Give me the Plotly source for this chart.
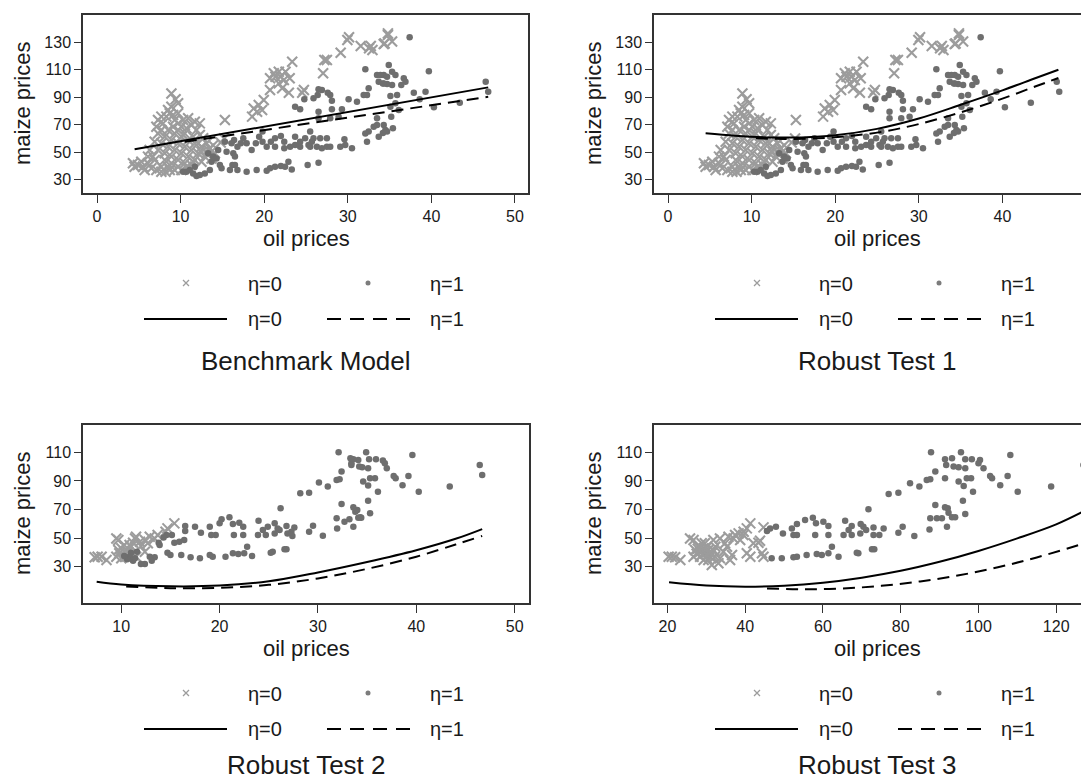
import plotly.graph_objects as go

# ---------------- data ----------------
# Top panels (Benchmark Model / Robust Test 1): oil prices vs maize prices
top_eta0 = [
    (18.75, 81.9), (18.55, 75.9), (19.35, 84.4), (19.95, 88.0), (19.75, 80.7), (19.15, 79.5),
    (20.7, 95.3), (20.7, 103.8), (21.15, 107.4), (21.75, 108.6), (21.95, 105.0), (22.35, 102.6),
    (22.55, 108.6), (23.35, 115.9), (23.05, 103.8), (22.95, 93.3), (22.15, 96.5), (24.55, 93.3),
    (24.75, 95.3), (21.75, 100.1), (21.35, 105.0), (27.2, 117.1), (27.5, 117.1), (27.05, 107.4),
    (29.15, 122.4), (29.95, 131.7), (30.15, 133.6), (31.55, 127.3), (32.55, 125.6), (32.75, 127.3),
    (32.95, 124.4), (34.4, 129.2), (34.8, 135.3), (34.8, 136.5), (34.3, 128.8), (35.3, 130.5),
    (8.9, 92.8), (9.4, 88.5), (9.7, 85.6), (15.3, 73.4),
    (4.3, 41.9), (4.9, 40.7), (5.5, 39.5), (6.1, 41.9), (5.7, 37.1), (6.5, 38.3), (7.1, 37.1),
    (7.7, 35.8), (8.2, 35.8), (8.7, 37.1), (7.7, 39.5), (6.7, 46.8), (6.3, 51.6), (6.9, 57.7),
    (7.3, 63.7), (7.3, 73.4), (7.9, 71.0), (8.3, 75.9), (8.7, 78.3), (9.1, 77.1), (9.3, 73.4),
    (9.7, 71.0), (10.1, 68.6), (10.7, 67.4), (11.3, 69.8), (11.9, 66.2), (11.5, 61.3), (12.3, 62.5),
    (12.7, 60.1), (13.1, 56.5), (13.5, 52.8), (13.7, 50.4), (14.1, 49.2), (12.9, 46.8), (12.1, 49.2),
    (11.3, 51.6), (10.5, 54.0), (9.7, 56.5), (8.9, 58.9), (8.1, 61.3), (7.7, 66.2), (8.5, 66.2),
    (9.3, 63.7), (10.1, 61.3), (10.9, 58.9), (11.7, 56.5), (12.5, 54.0), (7.7, 56.5), (8.5, 54.0),
    (9.3, 51.6), (10.1, 49.2), (10.9, 46.8), (11.7, 44.3), (12.5, 43.1), (7.3, 51.6), (8.1, 49.2),
    (8.9, 46.8), (9.7, 44.3), (10.5, 41.9), (11.3, 40.7), (9.7, 39.5), (10.1, 37.1), (6.9, 44.3),
    (8.1, 44.3), (8.9, 41.9), (10.9, 74.7), (11.7, 72.2), (12.3, 71.0), (8.9, 83.1), (8.5, 80.7),
    (7.7, 75.9), (7.1, 68.6), (10.5, 63.7), (9.7, 66.2), (9.1, 68.6), (13.3, 51.6), (9.7, 78.3),
    (10.3, 73.4), (12.1, 56.5), (13.1, 49.2), (13.7, 45.5), (12.5, 50.4), (11.5, 43.1), (10.7, 39.5),
    (9.3, 37.1), (8.5, 39.5), (4.5, 39.5), (5.3, 43.1), (6.1, 46.8), (14.8, 57.0), (15.2, 60.0),
    (13.9, 55.0),
]
top_eta1 = [
    (37.4, 133.6), (46.5, 101.3), (46.8, 94.0), (43.4, 86.0), (40.3, 82.7), (39.7, 108.9),
    (39.3, 94.0), (37.9, 93.3), (38.6, 88.5), (36.7, 103.8), (36.9, 101.3), (36.4, 98.9),
    (35.7, 106.2), (35.3, 108.6), (34.9, 113.5), (35.3, 98.9), (34.7, 99.6), (34.3, 106.2),
    (34.2, 100.0), (35.9, 91.6), (35.1, 91.0), (35.7, 85.6), (35.1, 83.1), (36.1, 80.7),
    (35.2, 75.9), (35.4, 67.4), (34.3, 69.8), (34.7, 65.0), (34.2, 64.0),
    (32.1, 110.3), (33.5, 106.2), (33.9, 106.2), (33.7, 101.3), (34.3, 100.1), (34.7, 105.0),
    (32.5, 96.5), (32.3, 91.6), (31.9, 91.6), (31.1, 86.8), (30.1, 88.5), (29.3, 81.2),
    (28.1, 81.2), (28.1, 87.5), (27.9, 91.6), (27.6, 93.3), (26.9, 95.3), (26.5, 95.8),
    (26.4, 91.6), (25.9, 89.2), (24.8, 88.5), (23.7, 83.1), (24.3, 81.2), (26.5, 79.5),
    (26.5, 74.7), (28.9, 75.9), (27.9, 74.7), (33.5, 74.7), (32.5, 65.0), (33.1, 68.6),
    (33.5, 69.8), (34.5, 66.2), (33.7, 61.3), (32.3, 57.7), (32.1, 63.7), (30.5, 52.8),
    (29.7, 55.2), (29.1, 54.0), (29.6, 59.4), (27.5, 60.1), (27.5, 54.0), (27.9, 54.0),
    (26.7, 60.1), (25.9, 60.1), (25.7, 57.7), (25.3, 55.2), (25.5, 54.0), (26.3, 54.0),
    (26.9, 52.8), (25.5, 65.0), (24.9, 60.1), (24.3, 57.7), (24.3, 54.0), (23.7, 61.3),
    (23.7, 55.2), (23.1, 54.0), (22.4, 52.8), (22.4, 57.7), (22.0, 61.8), (21.3, 60.1),
    (21.3, 54.0), (20.8, 57.7), (20.3, 54.0), (19.8, 57.7), (19.8, 65.0), (19.4, 61.3),
    (19.0, 56.5), (18.5, 51.6), (17.9, 56.5), (17.5, 60.1), (17.2, 56.5), (16.8, 54.0),
    (16.4, 58.9), (16.3, 49.2), (16.2, 40.7), (16.8, 37.0), (17.9, 35.8), (19.1, 37.0),
    (20.3, 36.6), (21.3, 39.5), (22.0, 40.0), (22.5, 39.5), (23.3, 37.5), (22.9, 43.1),
    (25.2, 40.7), (26.5, 42.4), (20.7, 38.3),
    (13.9, 46.8), (14.5, 51.6), (15.3, 57.7), (16.1, 56.5), (16.5, 46.8), (16.5, 40.7),
    (14.9, 38.3), (14.7, 40.7), (13.5, 37.0), (12.9, 34.6), (12.3, 33.4), (11.9, 32.7),
    (11.5, 34.6), (11.1, 37.0), (10.7, 35.8), (10.3, 35.8), (11.7, 39.5), (13.7, 43.1),
    (15.9, 37.0), (13.3, 49.2), (14.3, 45.5), (15.5, 50.4),
]

# Robust Test 2 (bottom left)
rt2_eta0 = [
    (7.6, 37.0), (8.0, 37.0), (8.5, 34.7), (7.3, 36.6), (9.5, 49.8), (9.7, 48.7), (10.0, 42.9),
    (10.3, 45.2), (9.8, 39.4), (10.7, 40.5), (11.0, 44.0), (11.4, 49.8), (11.5, 51.0), (11.9, 47.5),
    (11.2, 46.8), (10.5, 37.0), (11.5, 37.0), (12.0, 44.5), (12.4, 48.7), (12.9, 51.0), (13.4, 49.8),
    (13.7, 52.2), (14.5, 54.5), (14.7, 56.8), (15.4, 60.3), (10.0, 35.9), (12.4, 40.5), (9.5, 37.0),
    (10.3, 40.5), (10.85, 45.2), (9.7, 41.7), (12.7, 46.4),
]
rt2_eta1 = [
    (46.45, 101.1), (46.7, 94.1), (43.4, 86.0), (40.25, 82.5), (39.6, 108.1), (39.2, 93.4),
    (38.6, 86.9), (37.9, 91.8), (37.7, 93.4), (37.0, 98.8), (36.8, 102.3), (36.6, 104.2),
    (35.9, 105.1), (36.1, 82.5), (35.8, 91.8), (35.3, 91.8), (35.1, 98.8), (35.2, 105.1),
    (34.9, 110.0), (35.1, 86.7), (35.1, 76.2), (35.3, 67.3), (34.6, 89.5), (34.5, 99.5),
    (34.2, 100.0), (34.1, 104.6), (33.6, 105.1), (33.4, 101.1), (33.4, 102.3), (33.3, 105.8),
    (34.0, 69.7), (33.6, 71.5), (33.8, 68.5), (34.3, 64.5), (34.4, 64.3), (34.1, 64.3),
    (33.6, 58.0), (33.2, 63.1), (32.7, 61.5), (32.4, 73.9), (32.4, 96.5), (31.9, 90.6),
    (32.2, 91.1), (32.1, 110.0), (31.9, 63.8), (31.95, 56.8), (31.0, 86.0), (30.1, 88.8),
    (30.5, 51.7), (29.5, 58.7), (29.1, 54.5), (29.1, 81.8), (28.2, 81.3),
    (26.2, 70.8), (27.6, 57.5), (27.3, 54.5), (27.4, 51.5), (26.8, 58.5), (26.9, 53.3),
    (26.6, 42.2), (26.8, 42.2), (26.1, 55.7), (25.9, 56.8), (25.6, 60.3), (25.6, 53.3),
    (25.4, 40.5), (25.2, 39.8), (24.9, 58.0), (24.7, 52.2), (24.4, 55.7), (23.9, 52.2),
    (23.96, 62.2), (23.3, 37.5), (22.8, 44.0), (22.5, 39.4), (22.4, 52.2), (22.4, 58.0),
    (22.0, 60.8), (21.9, 38.9), (21.35, 39.4), (21.45, 52.2), (21.35, 59.9), (21.0, 64.5),
    (20.6, 37.0), (20.2, 63.1), (20.0, 60.3), (19.6, 52.2), (19.15, 52.2), (19.3, 37.0),
    (19.0, 38.2), (19.0, 58.0), (18.0, 35.9), (18.1, 53.8), (17.5, 58.0), (17.05, 36.6),
    (16.5, 55.0), (16.4, 48.7), (16.1, 38.2), (15.9, 47.5), (15.4, 46.8), (15.15, 52.2),
    (15.0, 38.2), (14.7, 39.8), (14.6, 52.2), (14.3, 50.5), (13.8, 46.8), (13.9, 45.2),
    (13.4, 36.6), (13.1, 34.2), (12.9, 37.0), (12.4, 31.9), (12.0, 31.9), (11.4, 35.9),
    (11.2, 34.2), (11.6, 40.5), (11.0, 39.8), (10.85, 37.0), (10.6, 35.2), (10.3, 37.5),
    (16.5, 58.5),
]

# Robust Test 3 (bottom right)
rt3_eta0 = [
    (20.3, 37.0), (21.1, 37.0), (21.97, 36.6), (23.3, 34.7), (25.8, 49.8), (26.7, 48.7),
    (27.1, 41.7), (26.7, 37.0), (28.0, 44.0), (28.4, 40.5), (29.3, 42.9), (29.7, 39.4),
    (30.5, 41.7), (31.0, 37.0), (30.5, 34.7), (31.4, 39.4), (32.3, 44.0), (31.8, 48.7),
    (33.1, 32.4), (33.5, 35.9), (34.4, 40.5), (34.8, 46.4), (33.5, 49.8), (35.7, 51.0),
    (37.0, 49.8), (37.4, 52.2), (36.1, 34.7), (36.6, 38.2), (38.3, 53.3), (39.6, 54.5),
    (40.4, 56.8), (41.3, 60.3), (39.5, 52.2), (40.4, 39.4), (41.3, 37.0), (42.1, 46.4),
    (43.4, 46.8), (44.7, 57.5), (44.3, 39.4), (44.7, 37.0), (43.8, 48.2), (28.4, 37.0),
    (29.3, 34.7), (31.4, 31.2), (32.2, 37.0), (29.6, 46.4), (28.8, 46.4), (38.7, 48.7),
    (35.3, 44.0), (27.5, 39.0), (28.9, 38.5), (30.0, 43.5), (30.8, 40.0), (29.0, 41.5),
    (31.9, 41.5), (27.8, 42.5), (30.2, 38.0),
]
rt3_eta1 = [
    (127.0, 101.1), (127.7, 94.1), (118.7, 86.0), (110.1, 82.5), (108.2, 108.1), (107.5, 93.4),
    (105.6, 86.9), (103.5, 91.8), (103.0, 93.4), (101.3, 98.8), (100.4, 104.6), (100.0, 102.3),
    (98.3, 105.1), (98.6, 82.5), (98.1, 91.8), (97.0, 91.8), (96.6, 98.8), (96.6, 105.1),
    (95.5, 110.0), (96.2, 86.5), (96.0, 76.2), (96.6, 66.9), (94.9, 89.5), (94.9, 99.5),
    (93.6, 100.0), (93.2, 105.8), (91.4, 105.1), (91.7, 101.1), (91.4, 91.8), (92.1, 70.8),
    (91.4, 71.5), (92.3, 67.8), (93.2, 64.5), (94.0, 64.5), (91.9, 58.0), (90.6, 63.8),
    (89.3, 63.8), (88.9, 73.2), (88.9, 96.5), (87.6, 91.1), (86.7, 90.6), (87.8, 110.0),
    (87.4, 56.1), (87.6, 63.8), (84.8, 86.0), (82.4, 88.3), (83.5, 51.5), (80.5, 58.0),
    (79.4, 53.8), (79.4, 81.8), (76.9, 80.9), (75.6, 56.8), (74.5, 52.2), (73.0, 57.5),
    (73.0, 52.2), (72.6, 42.2), (73.2, 42.2), (71.7, 70.1), (71.1, 55.7), (70.4, 58.0),
    (69.7, 59.9), (69.6, 53.3), (69.1, 39.4), (68.7, 39.8), (67.4, 58.5), (67.4, 52.2),
    (66.6, 55.7), (65.3, 52.2), (65.7, 62.2), (64.0, 37.0), (62.3, 44.0), (61.4, 39.4),
    (61.4, 52.2), (61.4, 58.5), (60.1, 61.5), (59.7, 38.2), (58.4, 38.9), (58.0, 52.2),
    (58.2, 60.3), (57.4, 64.3), (55.4, 62.7), (55.8, 38.2), (53.3, 52.2), (52.4, 52.2),
    (53.3, 37.0), (52.4, 36.6), (53.3, 59.9), (52.0, 56.8), (49.4, 35.9), (49.7, 53.3),
    (47.9, 58.0), (46.8, 35.9), (45.6, 55.0), (46.4, 56.8),
]

# Fitted values
bench_fit0_x = [4.5, 46.8]
bench_fit0_y = [52.1, 97.2]
bench_fit1_x = [10.5, 46.8]
bench_fit1_y = [57.6, 90.3]

rt1_fit0_x = [4.5, 8, 12, 16, 20, 25, 30, 35, 40, 44, 46.7]
rt1_fit0_y = [63.8, 62.0, 60.8, 60.8, 62.3, 67.0, 74.5, 84.5, 95.0, 104.0, 110.0]
rt1_fit1_x = [10.5, 14, 18, 22, 26, 30, 35, 40, 44, 46.7]
rt1_fit1_y = [60.2, 59.6, 60.2, 62.0, 65.3, 70.5, 79.0, 89.0, 98.0, 104.0]

rt2_fit0_x = [7.5, 10, 15, 20, 25, 30, 35, 40, 44, 46.7]
rt2_fit0_y = [19.5, 17.6, 16.3, 16.8, 19.8, 26.0, 33.3, 41.5, 49.5, 56.3]
rt2_fit1_x = [10.5, 15, 20, 25, 30, 35, 40, 44, 46.7]
rt2_fit1_y = [16.2, 15.0, 15.3, 17.3, 21.8, 28.5, 37.0, 45.5, 51.5]

rt3_fit0_x = [20.4, 30, 40, 50, 60, 70, 80, 90, 100, 110, 120, 127.4]
rt3_fit0_y = [19.1, 16.8, 16.0, 16.7, 18.8, 22.3, 27.1, 33.4, 41.0, 49.8, 59.6, 69.2]
rt3_fit1_x = [45.6, 55, 65, 75, 85, 95, 105, 115, 127.4]
rt3_fit1_y = [14.8, 14.2, 14.8, 16.6, 19.7, 24.0, 29.6, 36.5, 46.4]

panel_titles = ["Benchmark Model", "Robust Test 1", "Robust Test 2", "Robust Test 3"]
x_title = "oil prices"
y_title = "maize prices"
legend_labels = ["η=0", "η=1"]

top_xticks = [0, 10, 20, 30, 40, 50]
top_yticks = [30, 50, 70, 90, 110, 130]
rt2_xticks = [10, 20, 30, 40, 50]
rt3_xticks = [20, 40, 60, 80, 100, 120]
bottom_yticks = [30, 50, 70, 90, 110]

# ---------------- styling / layout ----------------
# The page body has an 8px margin, so the figure starts at (8, 8) of the window.
OFF = 8
W, H = 1089 - OFF, 780 - OFF
FONT = "Liberation Sans, Arial, sans-serif"
TXT = "#1a1a1a"
BOX = "#333333"
X_COL = "#9c9c9c"
DOT_COL = "#6e6e6e"
DASH = "12px,7px"

# box positions in window pixels: (left, right, top, bottom)
boxes = [(83, 528, 15, 193), (654, 1089, 15, 193), (83, 529, 425, 603), (654, 1089, 425, 603)]
xranges = [[-1.675, 51.56], [-1.675, 50.36], [6.11, 51.46], [16.53, 128.44]]
yranges = [[20.32, 149.87], [20.32, 149.87], [4.62, 129.09], [4.62, 129.09]]
xticks = [top_xticks, top_xticks, rt2_xticks, rt3_xticks]
yticks = [top_yticks, top_yticks, bottom_yticks, bottom_yticks]
offsets = [(0, 0), (571, 0), (0, 410), (571, 410)]

scatter_sets = [(top_eta0, top_eta1), (top_eta0, top_eta1), (rt2_eta0, rt2_eta1), (rt3_eta0, rt3_eta1)]
fit_sets = [
    (bench_fit0_x, bench_fit0_y, bench_fit1_x, bench_fit1_y),
    (rt1_fit0_x, rt1_fit0_y, rt1_fit1_x, rt1_fit1_y),
    (rt2_fit0_x, rt2_fit0_y, rt2_fit1_x, rt2_fit1_y),
    (rt3_fit0_x, rt3_fit0_y, rt3_fit1_x, rt3_fit1_y),
]


def fx(px):
    return min(1.0, max(0.0, (px - OFF) / W))


def fy(py):
    return min(1.0, max(0.0, 1 - (py - OFF) / H))


fig = go.Figure()
layout = dict(
    width=W, height=H, margin=dict(l=0, r=0, t=0, b=0),
    paper_bgcolor="white", plot_bgcolor="rgba(0,0,0,0)", showlegend=False,
    font=dict(family=FONT, color=TXT),
)

annotations = []
for i in range(4):
    k = "" if i == 0 else str(i + 1)
    xa, ya = "x" + k, "y" + k
    l, r, t, b = boxes[i]
    right_panel = i in (1, 3)
    layout["xaxis" + k] = dict(
        domain=[fx(l), fx(r)], range=xranges[i], anchor=ya,
        tickvals=xticks[i], ticktext=[str(v) for v in xticks[i]],
        showline=True, linecolor=BOX, linewidth=1.5, mirror=True,
        ticks="outside", ticklen=8, tickwidth=1.3, tickcolor=BOX,
        showgrid=False, zeroline=False, tickfont=dict(size=16, color=TXT, family=FONT),
    )
    layout["yaxis" + k] = dict(
        domain=[fy(b), fy(t)], range=yranges[i], anchor=xa,
        tickvals=yticks[i], ticktext=[str(v) for v in yticks[i]],
        showline=True, linecolor=BOX, linewidth=1.5, mirror=not right_panel,
        ticks="outside", ticklen=7, tickwidth=1.3, tickcolor=BOX,
        showgrid=False, zeroline=False, tickfont=dict(size=16, color=TXT, family=FONT),
    )
    eta0, eta1 = scatter_sets[i]
    fig.add_trace(go.Scatter(
        x=[p[0] for p in eta0], y=[p[1] for p in eta0], mode="markers",
        marker=dict(symbol="x-thin", size=10, color=X_COL, line=dict(width=2.1, color=X_COL)),
        xaxis=xa, yaxis=ya, hoverinfo="skip"))
    fig.add_trace(go.Scatter(
        x=[p[0] for p in eta1], y=[p[1] for p in eta1], mode="markers",
        marker=dict(symbol="circle", size=6.5, color=DOT_COL, line=dict(width=0)),
        xaxis=xa, yaxis=ya, hoverinfo="skip"))
    f0x, f0y, f1x, f1y = fit_sets[i]
    fig.add_trace(go.Scatter(x=f0x, y=f0y, mode="lines", line=dict(color="black", width=2, shape="spline"),
                             xaxis=xa, yaxis=ya, hoverinfo="skip"))
    fig.add_trace(go.Scatter(x=f1x, y=f1y, mode="lines",
                             line=dict(color="black", width=2, dash=DASH, shape="spline"),
                             xaxis=xa, yaxis=ya, hoverinfo="skip"))

    dx, dy = offsets[i]
    # axis titles
    annotations.append(dict(xref="x5", yref="y5", x=306 + dx, y=238 + dy, text=x_title, showarrow=False,
                            xanchor="center", yanchor="middle", font=dict(size=22, color=TXT, family=FONT)))
    annotations.append(dict(xref="x5", yref="y5", x=22 + dx, y=104 + dy, text=y_title, showarrow=False,
                            textangle=-90, xanchor="center", yanchor="middle",
                            font=dict(size=22, color=TXT, family=FONT)))
    # legend keys
    fig.add_trace(go.Scatter(x=[186 + dx], y=[283 + dy], mode="markers",
                             marker=dict(symbol="x-thin", size=6, color=X_COL, line=dict(width=1.3, color=X_COL)),
                             xaxis="x5", yaxis="y5", hoverinfo="skip"))
    fig.add_trace(go.Scatter(x=[368 + dx], y=[283 + dy], mode="markers",
                             marker=dict(symbol="circle", size=5, color="#7c7c7c"),
                             xaxis="x5", yaxis="y5", hoverinfo="skip"))
    fig.add_trace(go.Scatter(x=[144 + dx, 227 + dx], y=[319 + dy, 319 + dy], mode="lines",
                             line=dict(color="black", width=2), xaxis="x5", yaxis="y5", hoverinfo="skip"))
    fig.add_trace(go.Scatter(x=[327 + dx, 412 + dx], y=[319 + dy, 319 + dy], mode="lines",
                             line=dict(color="black", width=2, dash="14px,9px"),
                             xaxis="x5", yaxis="y5", hoverinfo="skip"))
    for lx, ly, lab in [(246, 284, legend_labels[0]), (428, 284, legend_labels[1]),
                        (246, 319, legend_labels[0]), (428, 319, legend_labels[1])]:
        annotations.append(dict(xref="x5", yref="y5", x=lx + dx, y=ly + dy, text=lab, showarrow=False,
                                xanchor="left", yanchor="middle", font=dict(size=20, color=TXT, family=FONT)))
    ty = 361 + dy if dy == 0 else 765
    annotations.append(dict(xref="x5", yref="y5", x=306 + dx, y=ty, text=panel_titles[i], showarrow=False,
                            xanchor="center", yanchor="middle", font=dict(size=26, color=TXT, family=FONT)))

# full-window overlay axis measured in window pixels (for axis titles and legend keys)
layout["xaxis5"] = dict(domain=[0, 1], range=[OFF, 1089], visible=False, anchor="y5", fixedrange=True)
layout["yaxis5"] = dict(domain=[0, 1], range=[780, OFF], visible=False, anchor="x5", fixedrange=True)
layout["annotations"] = annotations
fig.update_layout(**layout)
fig.write_html("out.html")
